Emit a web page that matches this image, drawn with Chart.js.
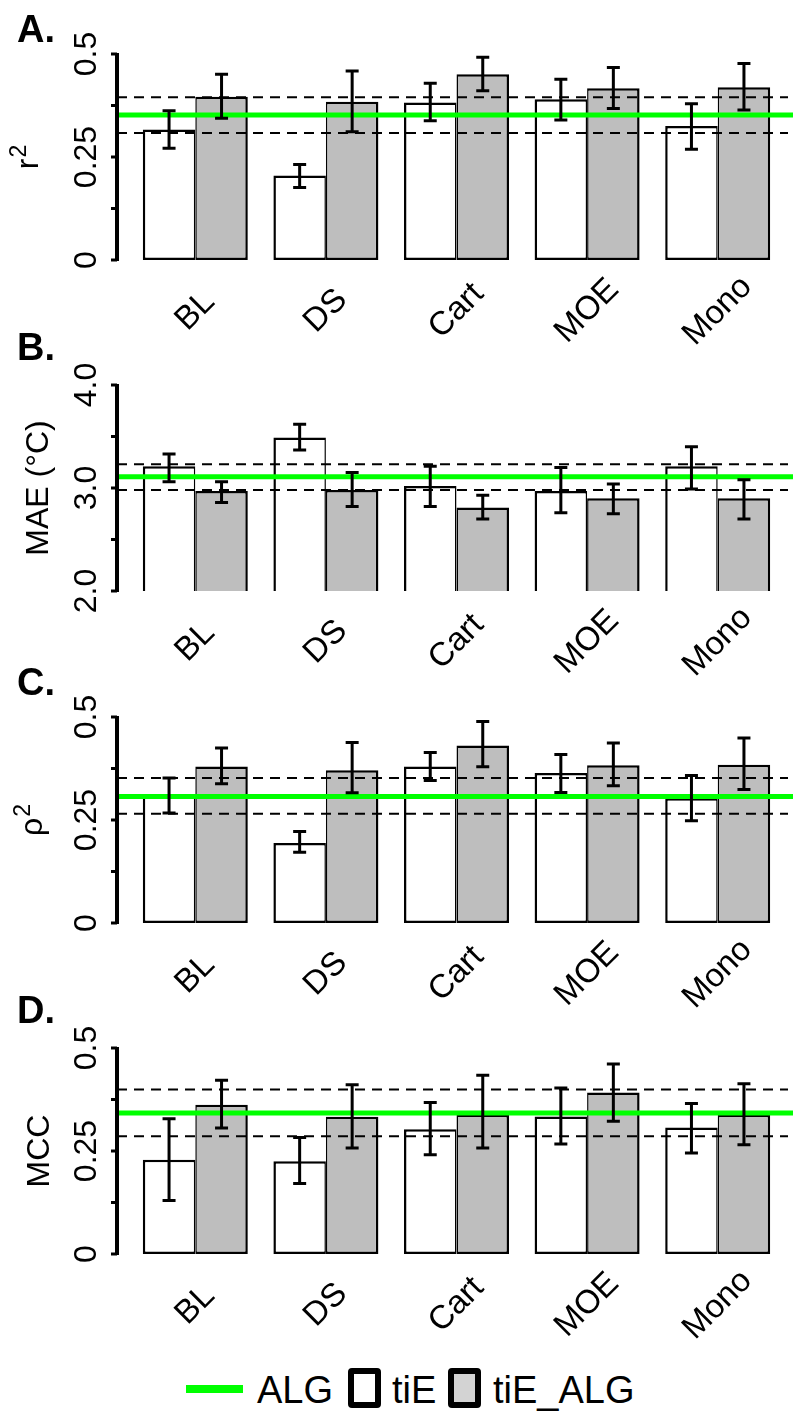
<!DOCTYPE html>
<html>
<head>
<meta charset="utf-8">
<script src="https://cdn.jsdelivr.net/npm/chart.js"></script>
<style>
body { margin: 0; background: #fff; width: 793px; height: 1412px; position: relative; overflow: hidden; font-family: "Liberation Sans", Arial, sans-serif; }
.panel { position: absolute; left: 0; width: 793px; height: 360px; }
.lg { position: absolute; }
.lgline { left: 186px; top: 1385px; width: 57px; height: 8px; background: #00ff00; }
.lgbox { top: 1368px; width: 33px; height: 40px; border: 6px solid #000; border-radius: 4px; box-sizing: border-box; }
.lgtxt { top: 1371px; font-size: 38px; line-height: 38px; color: #000; white-space: nowrap; }
</style>
</head>
<body>
<div class="panel" style="top:0px"><canvas id="pA" width="793" height="360"></canvas></div>
<div class="panel" style="top:331px"><canvas id="pB" width="793" height="360"></canvas></div>
<div class="panel" style="top:663px"><canvas id="pC" width="793" height="360"></canvas></div>
<div class="panel" style="top:994px"><canvas id="pD" width="793" height="360"></canvas></div>

<div class="lg lgline"></div>
<div class="lg lgtxt" style="left:257px">ALG</div>
<div class="lg lgbox" style="left:348px;background:#fff"></div>
<div class="lg lgtxt" style="left:392px">tiE</div>
<div class="lg lgbox" style="left:448px;background:#d3d3d3"></div>
<div class="lg lgtxt" style="left:493px">tiE_ALG</div>

<script>
var categories = ["BL", "DS", "Cart", "MOE", "Mono"]

// A. r^2
var r2TiE = [0.317, 0.205, 0.382, 0.390, 0.325]
var r2TiELo = [0.271, 0.176, 0.338, 0.340, 0.269]
var r2TiEHi = [0.362, 0.232, 0.429, 0.439, 0.379]
var r2TiEAlg = [0.396, 0.384, 0.451, 0.417, 0.419]
var r2TiEAlgLo = [0.344, 0.311, 0.411, 0.368, 0.364]
var r2TiEAlgHi = [0.451, 0.459, 0.492, 0.467, 0.477]
var r2Alg = [0.352, 0.308, 0.395] // mean, low, high

// B. MAE
var maeTiE = [3.21, 3.49, 3.02, 2.97, 3.21]
var maeTiELo = [3.06, 3.37, 2.82, 2.76, 2.99]
var maeTiEHi = [3.33, 3.62, 3.21, 3.20, 3.40]
var maeTiEAlg = [2.97, 2.98, 2.81, 2.90, 2.90]
var maeTiEAlgLo = [2.86, 2.82, 2.70, 2.75, 2.70]
var maeTiEAlgHi = [3.06, 3.15, 2.93, 3.04, 3.08]
var maeAlg = [3.11, 2.98, 3.23]

// C. rho^2
var rhoTiE = [0.307, 0.194, 0.380, 0.364, 0.303]
var rhoTiELo = [0.267, 0.172, 0.346, 0.317, 0.248]
var rhoTiEHi = [0.352, 0.222, 0.414, 0.409, 0.358]
var rhoTiEAlg = [0.380, 0.371, 0.431, 0.383, 0.384]
var rhoTiEAlgLo = [0.338, 0.316, 0.379, 0.333, 0.324]
var rhoTiEAlgHi = [0.425, 0.438, 0.489, 0.437, 0.449]
var rhoAlg = [0.307, 0.265, 0.352]

// D. MCC
var mccTiE = [0.229, 0.225, 0.303, 0.334, 0.307]
var mccTiELo = [0.130, 0.171, 0.241, 0.267, 0.245]
var mccTiEHi = [0.328, 0.283, 0.368, 0.403, 0.365]
var mccTiEAlg = [0.362, 0.333, 0.338, 0.392, 0.338]
var mccTiEAlgLo = [0.306, 0.257, 0.257, 0.322, 0.265]
var mccTiEAlgHi = [0.422, 0.411, 0.434, 0.461, 0.413]
var mccAlg = [0.342, 0.286, 0.399]

// axis ticks
var unitTicks = [0, 0.125, 0.25, 0.375, 0.5]
var unitTickLabels = ["0", "", "0.25", "", "0.5"]
var maeTicks = [2, 2.5, 3, 3.5, 4]
var maeTickLabels = ["2.0", "", "3.0", "", "4.0"]

// title: [main text, superscript]
var panels = [
  {id: "pA", letter: "A.", letterY: 42, title: ["r", "2"], titleX: 38, min: 0, max: 0.5, ticks: unitTicks, tickLabels: unitTickLabels,
   tie: r2TiE, tieLo: r2TiELo, tieHi: r2TiEHi, alg: r2TiEAlg, algLo: r2TiEAlgLo, algHi: r2TiEAlgHi, ref: r2Alg},
  {id: "pB", letter: "B.", letterY: 29, title: ["MAE (\u00B0C)", ""], titleX: 48, min: 2, max: 4, ticks: maeTicks, tickLabels: maeTickLabels,
   tie: maeTiE, tieLo: maeTiELo, tieHi: maeTiEHi, alg: maeTiEAlg, algLo: maeTiEAlgLo, algHi: maeTiEAlgHi, ref: maeAlg, clipBase: true},
  {id: "pC", letter: "C.", letterY: 32, title: ["\u03C1", "2"], titleX: 42, min: 0, max: 0.5, ticks: unitTicks, tickLabels: unitTickLabels,
   tie: rhoTiE, tieLo: rhoTiELo, tieHi: rhoTiEHi, alg: rhoTiEAlg, algLo: rhoTiEAlgLo, algHi: rhoTiEAlgHi, ref: rhoAlg},
  {id: "pD", letter: "D.", letterY: 29, title: ["MCC", ""], titleX: 49, min: 0, max: 0.5, ticks: unitTicks, tickLabels: unitTickLabels,
   tie: mccTiE, tieLo: mccTiELo, tieHi: mccTiEHi, alg: mccTiEAlg, algLo: mccTiEAlgLo, algHi: mccTiEAlgHi, ref: mccAlg}
]

var FONT = '"Liberation Sans", Arial, sans-serif'
var AXIS_X = 117

function hline(ctx, y, x0, x1, color, width, dash) {
  ctx.save()
  ctx.strokeStyle = color
  ctx.lineWidth = width
  ctx.setLineDash(dash || [])
  ctx.beginPath()
  ctx.moveTo(x0, y)
  ctx.lineTo(x1, y)
  ctx.stroke()
  ctx.restore()
}

function decor(p) {
  return {
    id: "decor",
    afterDatasetsDraw(chart) {
      var ctx = chart.ctx, y = chart.scales.y, x = chart.scales.x, area = chart.chartArea

      // ALG mean and interval
      hline(ctx, y.getPixelForValue(p.ref[1]), AXIS_X, 788, "#000", 2, [10, 7])
      hline(ctx, y.getPixelForValue(p.ref[2]), AXIS_X, 788, "#000", 2, [10, 7])
      hline(ctx, y.getPixelForValue(p.ref[0]), AXIS_X, 793, "#00ff00", 5)

      // error bars
      ctx.save()
      ctx.strokeStyle = "#000"
      ctx.lineWidth = 3
      var pairs = [[p.tieLo, p.tieHi], [p.algLo, p.algHi]]
      pairs.forEach((pr, d) => {
        chart.getDatasetMeta(d).data.forEach((bar, i) => {
          var yt = y.getPixelForValue(pr[1][i]), yb = y.getPixelForValue(pr[0][i])
          ctx.beginPath()
          ctx.moveTo(bar.x, yt); ctx.lineTo(bar.x, yb)
          ctx.moveTo(bar.x - 6.5, yt); ctx.lineTo(bar.x + 6.5, yt)
          ctx.moveTo(bar.x - 6.5, yb); ctx.lineTo(bar.x + 6.5, yb)
          ctx.stroke()
        })
      })
      ctx.restore()

      // y axis line + ticks
      ctx.save()
      ctx.strokeStyle = "#000"
      ctx.lineWidth = 4
      ctx.beginPath()
      ctx.moveTo(AXIS_X, y.getPixelForValue(p.min) + 1)
      ctx.lineTo(AXIS_X, y.getPixelForValue(p.max) - 1)
      ctx.stroke()
      ctx.lineWidth = 3
      p.ticks.forEach(v => {
        var py = y.getPixelForValue(v)
        ctx.beginPath(); ctx.moveTo(AXIS_X - 6, py); ctx.lineTo(AXIS_X, py); ctx.stroke()
      })
      ctx.fillStyle = "#000"
      ctx.font = "32px " + FONT
      ctx.textAlign = "center"
      ctx.textBaseline = "alphabetic"
      p.ticks.forEach((v, i) => {
        if (!p.tickLabels[i]) return
        ctx.save()
        ctx.translate(96, y.getPixelForValue(v))
        ctx.rotate(-Math.PI / 2)
        ctx.fillText(p.tickLabels[i], 0, 0)
        ctx.restore()
      })

      // y title (with optional plotmath-like superscript)
      ctx.save()
      ctx.translate(p.titleX, (area.top + area.bottom) / 2)
      ctx.rotate(-Math.PI / 2)
      ctx.textAlign = "left"
      ctx.font = "32px " + FONT
      var wMain = ctx.measureText(p.title[0]).width
      ctx.font = "23px " + FONT
      var wSup = p.title[1] ? ctx.measureText(p.title[1]).width + 1 : 0
      var x0 = -(wMain + wSup) / 2
      ctx.font = "32px " + FONT
      ctx.fillText(p.title[0], x0, 0)
      if (p.title[1]) {
        ctx.font = "23px " + FONT
        ctx.fillText(p.title[1], x0 + wMain + 1, -12)
      }
      ctx.restore()

      // category labels, 45 degrees, centred under each group
      ctx.font = "33px " + FONT
      ctx.textAlign = "center"
      ctx.textBaseline = "middle"
      categories.forEach((c, i) => {
        ctx.save()
        ctx.translate(x.getPixelForValue(i), area.bottom + 51)
        ctx.rotate(-Math.PI / 4)
        ctx.fillText(c, 0, 0)
        ctx.restore()
      })

      // panel letter
      ctx.font = "bold 38px " + FONT
      ctx.textAlign = "left"
      ctx.textBaseline = "alphabetic"
      ctx.fillText(p.letter, 17, p.letterY)
      ctx.restore()
    }
  }
}

panels.forEach(p => {
  var bottomW = p.clipBase ? 0 : 2.5
  new Chart(p.id, {
    type: "bar",
    data: {
      labels: categories,
      datasets: [{
        label: "tiE",
        data: p.tie,
        backgroundColor: "#ffffff",
        borderColor: "#000000",
        borderWidth: {top: 2.5, left: 2.5, right: 1.5, bottom: bottomW},
        borderSkipped: p.clipBase ? "start" : false
      }, {
        label: "tiE_ALG",
        data: p.alg,
        backgroundColor: "#bebebe",
        borderColor: "#000000",
        borderWidth: {top: 2.5, left: 1.5, right: 2.5, bottom: bottomW},
        borderSkipped: p.clipBase ? "start" : false
      }]
    },
    options: {
      responsive: false,
      animation: false,
      layout: {padding: {left: 130, right: 10, top: 54, bottom: 100}},
      datasets: {bar: {categoryPercentage: 0.804, barPercentage: 1}},
      scales: {
        x: {display: false, offset: true},
        y: {display: false, min: p.min, max: p.max}
      },
      plugins: {legend: {display: false}, tooltip: {enabled: false}}
    },
    plugins: [decor(p)]
  })
})
</script>
</body>
</html>
